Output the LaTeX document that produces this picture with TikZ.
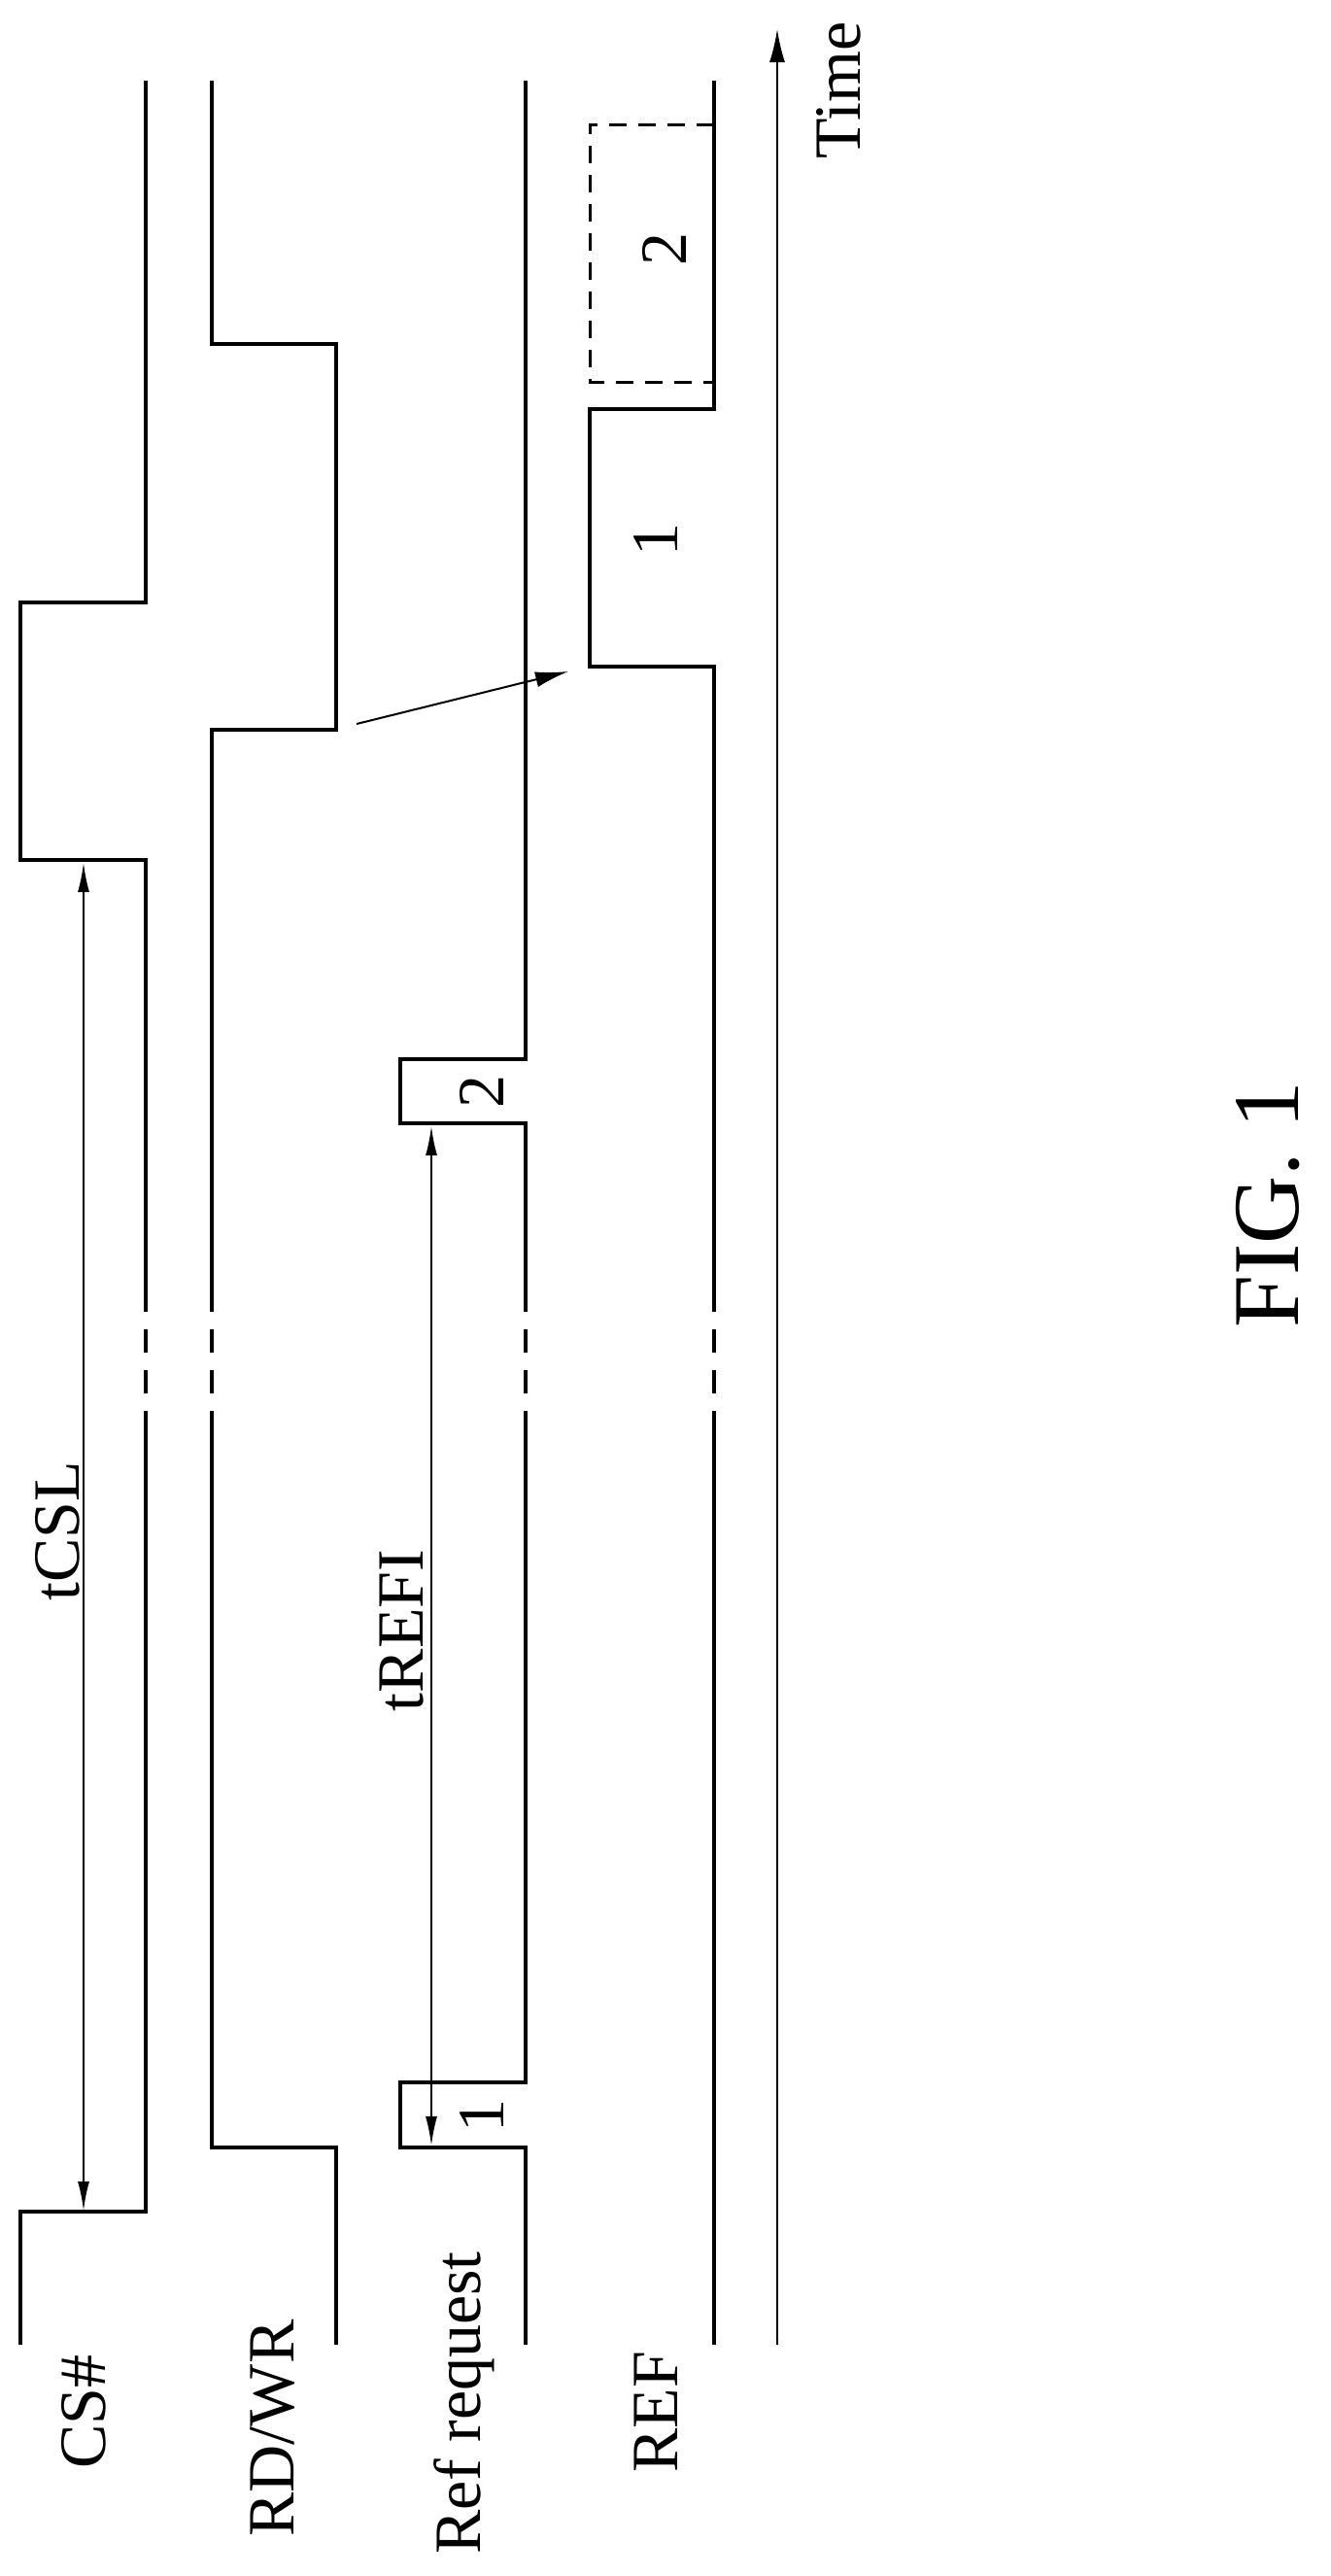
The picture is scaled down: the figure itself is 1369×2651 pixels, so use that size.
\documentclass[tikz,border=0pt]{standalone}
\usepackage{fontspec}
\setmainfont{Liberation Serif}
\usetikzlibrary{arrows.meta}
\begin{document}
\begin{tikzpicture}[x=1pt,y=-1pt,
  wave/.style={line width=4pt,line join=miter},
  brk/.style={line width=4pt,dash pattern=on 24pt off 18pt},
  dim/.style={line width=2pt,{Latex[length=30pt,width=12pt]}-{Latex[length=30pt,width=12pt]}},
  lbl/.style={font=\fontsize{68}{78}\selectfont,rotate=90,inner sep=0}]
\useasboundingbox (0,0) rectangle (1369,2651);
% CS#
\draw[wave] (150,83) -- (150,620) -- (21,620) -- (21,885) -- (150,885) -- (150,1326);
\draw[brk] (150,1326) -- (150,1461);
\draw[wave] (150,1461) -- (150,2276) -- (21,2276) -- (21,2413);
% RD/WR
\draw[wave] (218,83) -- (218,354) -- (346,354) -- (346,751) -- (218,751) -- (218,1326);
\draw[brk] (218,1326) -- (218,1461);
\draw[wave] (218,1461) -- (218,2210) -- (346,2210) -- (346,2413);
% Ref request
\draw[wave] (541,83) -- (541,1090) -- (412,1090) -- (412,1156) -- (541,1156) -- (541,1326);
\draw[brk] (541,1326) -- (541,1461);
\draw[wave] (541,1461) -- (541,2143) -- (412,2143) -- (412,2210) -- (541,2210) -- (541,2413);
% REF
\draw[wave] (735,83) -- (735,421) -- (607,421) -- (607,686) -- (735,686) -- (735,1326);
\draw[brk] (735,1326) -- (735,1461);
\draw[wave] (735,1461) -- (735,2413);
\draw[line width=3pt,dash pattern=on 18pt off 12pt] (735,128) -- (607,128) -- (607,393) -- (735,393);
% time axis
\coordinate (t0) at (800,2413);
\coordinate (t1) at (800,30);
\draw[line width=2pt,-{Latex[length=34pt,width=16pt]}] (t0) -- (t1);
\node[lbl] (time) at (863,93) {Time};
% dimension arrows
\coordinate (c1) at (86,888); \coordinate (c2) at (86,2275);
\draw[dim] (c1) -- (c2);
\coordinate (r1) at (444,1159); \coordinate (r2) at (444,2208);
\draw[dim] (r1) -- (r2);
\node[lbl] (tcsl) at (59,1576) {tCSL};
\node[lbl] (trefi) at (414,1678) {tREFI};
% causal arrow
\coordinate (a0) at (367,745); \coordinate (a1) at (585,691);
\draw[line width=2pt,-{Latex[length=34pt,width=16pt]}] (a0) -- (a1);
% pulse labels
\node[lbl] (p2) at (684,256) {2};
\node[lbl] (p1) at (675,555) {1};
\node[lbl] (q2) at (496,1123) {2};
\node[lbl] (q1) at (496,2177) {1};
% signal names
\node[lbl] (cs) at (86,2482) {CS\#};
\node[lbl] (rw) at (281,2499) {RD/WR};
\node[lbl] (rr) at (478,2473) {Ref request};
\node[lbl] (ref) at (675,2482) {REF};
\node[rotate=90,inner sep=0,font=\fontsize{97}{107}\selectfont] (fig) at (1305,1240) {FIG. 1};
\end{tikzpicture}
\end{document}
